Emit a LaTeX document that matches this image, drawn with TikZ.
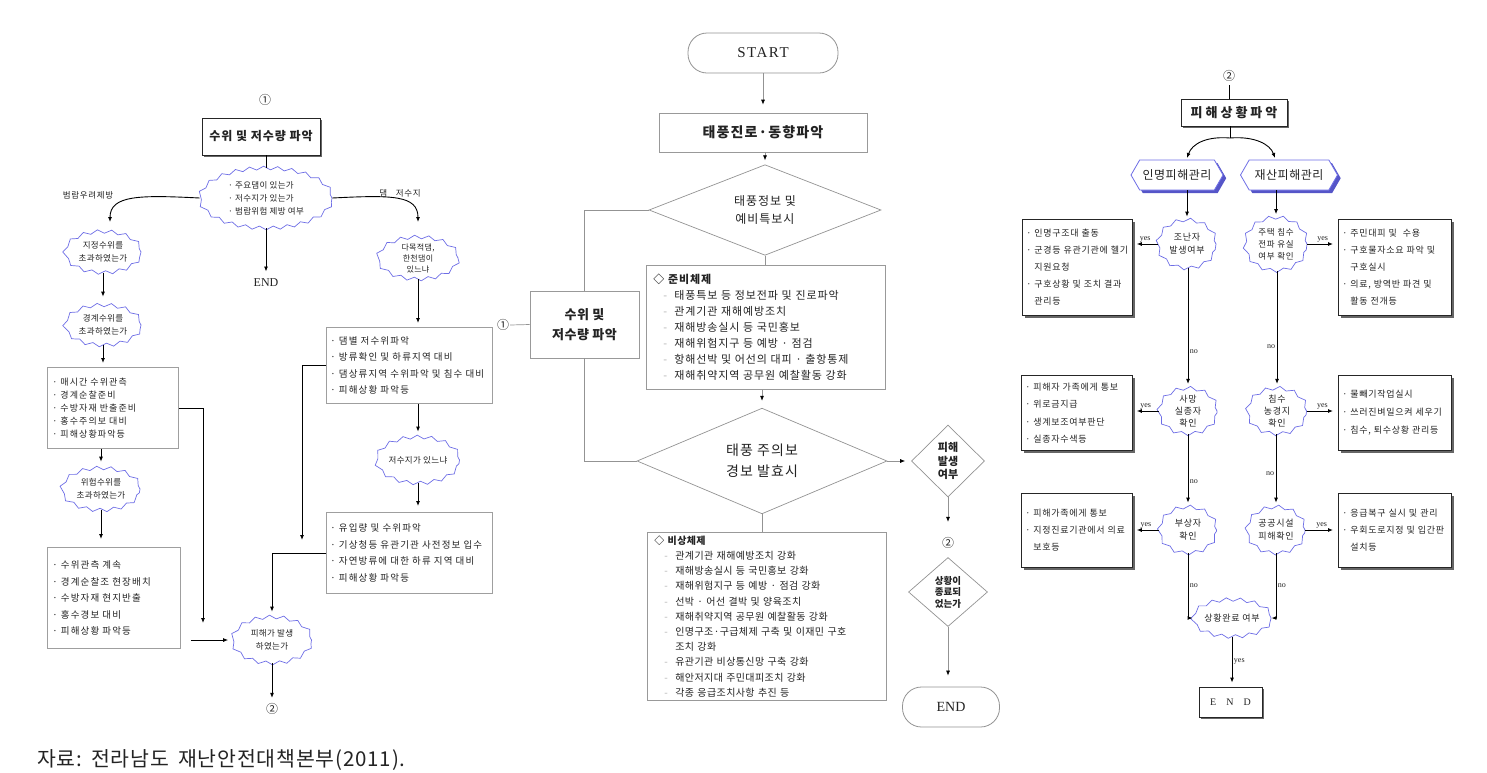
\documentclass[tikz,border=0pt]{standalone}
\usepackage{fontspec}
\setmainfont{Noto Sans CJK KR}
\newfontfamily\kA[LetterSpace=8]{Noto Sans CJK KR}
\newfontfamily\kB[LetterSpace=12]{Noto Sans CJK KR}
\newfontfamily\kC[LetterSpace=4]{Noto Sans CJK KR}
\newfontfamily\serifA{Liberation Serif}
\newfontfamily\serifB[LetterSpace=10]{Liberation Serif}
\usetikzlibrary{shapes.geometric,shapes.symbols,arrows.meta,decorations.pathmorphing,shadows,calc}
\definecolor{wblue}{RGB}{110,110,230}
\definecolor{hshade}{RGB}{85,85,200}
\definecolor{txt}{RGB}{35,35,35}
\newcommand\fsz[2]{\fontsize{#1}{#2}\selectfont}
\newcommand\dl{\hspace*{10pt}\makebox[11pt][l]{\textcolor{gray!60}{-}}}
\newcommand\rb{\makebox[8pt][l]{·}}
\newcommand\rc{\hspace*{8pt}}
\begin{document}
\begin{tikzpicture}[x=1pt,y=-1pt,
  every node/.style={text=txt},
  wav/.style={ellipse, draw=wblue, line width=0.7pt, fill=white, decorate,
    decoration={zigzag,segment length=14pt,amplitude=1.8pt}, inner sep=0pt, align=center, font=\kC\fsz{8.5}{12.5}},
  lbox/.style={draw=gray!75, line width=0.9pt, fill=white, align=left, inner xsep=5pt, anchor=north west},
  sbox/.style={draw=black!85, line width=0.8pt, fill=white,
    drop shadow={shadow xshift=2.2pt, shadow yshift=-2.2pt, fill=black!60, opacity=1}},
  rbox/.style={sbox, align=left, inner xsep=4pt, anchor=north west, font=\kA\fsz{9}{17}},
  cbox/.style={draw=gray!80, line width=0.7pt, fill=white},
  dia/.style={diamond, draw=gray!85, line width=0.7pt, fill=white, inner sep=0pt, align=center},
  term/.style={rectangle, rounded corners=19pt, draw=gray!85, line width=0.8pt, fill=white},
  hexs/.style={signal, signal to=west and east, signal pointer angle=120, draw=wblue, line width=0.8pt, fill=white,
    drop shadow={shadow xshift=3.2pt, shadow yshift=-3.2pt, fill=hshade, opacity=1}, inner sep=0pt, font=\kC\fsz{12}{12}},
  ln/.style={line width=0.9pt, black},
  arr/.style={ln, -{Latex[length=5pt,width=4pt]}},
  cln/.style={line width=0.7pt, gray!85},
  carr/.style={cln, -{Latex[length=5pt,width=4pt,color=black]}},
  lbl/.style={font=\kA\fsz{8.5}{9}},
  yn/.style={font=\serifA\fsz{8}{8}, inner sep=1.5pt}
]
\useasboundingbox (0,0) rectangle (1487,772);

% ================= LEFT PANEL =================
\node[font=\fsz{12}{12}] (c1) at (265,100) {①};
\node[sbox, minimum width=118pt, minimum height=37pt, font=\kA\bfseries\fsz{12}{12}] (L0) at (261,136.5) {수위 및 저수량 파악};
\node[wav, minimum width=132pt, minimum height=60pt, font=\kC\fsz{8.5}{13}, align=left] (W0) at (266,198)
  {· 주요댐이 있는가\\· 저수지가 있는가\\· 범람위험 제방 여부};
\draw[ln] (W0.north |- L0.south) -- (W0.north);
\coordinate (aL) at (110,222);
\coordinate (aR) at (418,222);
\draw[arr] (W0.west) .. controls (140,195) and (110,195) .. (aL);
\draw[arr] (W0.east) .. controls (392,195) and (418,195) .. (aR);
\node[lbl] at (88,195) {범람우려제방};
\node[lbl] at (400,193) {댐\quad 저수지};
\node[font=\serifA\fsz{12}{12}] (E1) at (266,283) {END};
\draw[arr] (W0.south) -- ([yshift=4pt]E1.north);

\node[wav, minimum width=76pt, minimum height=41pt] (W1) at (103,252) {지정수위를\\초과하였는가};
\node[wav, minimum width=76pt, minimum height=40pt] (W2) at (103,325) {경계수위를\\초과하였는가};
\draw[arr, shorten >=8pt] (W1.south) -- (W2.north);
\node[lbox, minimum width=131pt, minimum height=81pt, text width=121pt, font=\kB\fsz{9}{13}] (B1) at (47,367)
  {· 매시간 수위관측\\· 경계순찰준비\\· 수방자재 반출준비\\· 홍수주의보 대비\\· 피해상황파악등};
\draw[arr, shorten >=4pt] (W2.south) -- (W2.south |- B1.north);
\node[wav, minimum width=78pt, minimum height=42pt] (W3) at (101,489) {위험수위를\\초과하였는가};
\draw[arr, shorten >=6pt] (W3.north |- B1.south) -- (W3.north);
\node[lbox, minimum width=133pt, minimum height=101pt, text width=123pt, font=\kB\fsz{9.5}{16.5}] (B2) at (47,547)
  {· 수위관측 계속\\· 경계순찰조 현장배치\\· 수방자재 현지반출\\· 홍수경보 대비\\· 피해상황 파악등};
\draw[arr, shorten >=8pt] (W3.south) -- (W3.south |- B2.north);
\node[wav, minimum width=79pt, minimum height=46pt] (W5) at (272,640) {피해가 발생\\하였는가};
\coordinate (m1) at (203,623);
\draw[arr] (B1.east) -- (B1.east -| m1) -- (m1);
\draw[arr] ([xshift=10pt]B2.east |- W5.west) -- ([xshift=-4pt]W5.west);
\node[font=\fsz{12}{12}] (c2) at (272,709) {②};
\draw[arr, shorten >=2pt] (W5.south) -- (c2.north);

\node[wav, minimum width=80pt, minimum height=42pt, font=\kC\fsz{8}{11}] (W4) at (418,258) {다목적댐,\\한천댐이\\있느냐};
\node[lbox, minimum width=166pt, minimum height=76pt, text width=158pt, inner xsep=4pt, font=\kB\fsz{9.5}{16.5}] (B3) at (326,327)
  {· 댐별 저수위파악\\· 방류확인 및 하류지역 대비\\· 댐상류지역 수위파악 및 침수 대비\\· 피해상황 파악등};
\draw[arr, shorten >=4pt] (W4.south) -- (W4.south |- B3.north);
\node[wav, minimum width=80pt, minimum height=46pt] (W6) at (418,460) {저수지가 있느냐};
\draw[arr, shorten >=5pt] (W6.north |- B3.south) -- (W6.north);
\node[lbox, minimum width=166pt, minimum height=81pt, text width=158pt, inner xsep=4pt, font=\kB\fsz{9.5}{16.5}] (B4) at (326,512)
  {· 유입량 및 수위파악\\· 기상청등 유관기관 사전정보 입수\\· 자연방류에 대한 하류 지역 대비\\· 피해상황 파악등};
\draw[arr, shorten >=6pt] (W6.south) -- (W6.south |- B4.north);
\coordinate (m2) at (302,540);
\draw[arr] (B3.west) -- (B3.west -| m2) -- (m2);
\draw[arr, shorten >=5pt] (B4.west) -- (B4.west -| W5.north) -- (W5.north);

% ================= CENTER PANEL =================
\node[term, minimum width=150pt, minimum height=40pt, font=\serifB\fsz{15}{15}] (S) at (763,53) {START};
\node[cbox, minimum width=208pt, minimum height=39pt, font=\kA\bfseries\fsz{14}{14}] (T1) at (763,132.5) {태풍진로·동향파악};
\draw[carr, shorten >=8pt] (S.south) -- (T1.north);
\node[dia, minimum width=232pt, minimum height=75pt, font=\kA\fsz{12}{18}] (D1) at (765,210) {태풍정보 및\\예비특보시};
\draw[carr, shorten >=4pt] (D1.north |- T1.south) -- (D1.north);
\node[cbox, minimum width=109pt, minimum height=67pt, align=center, font=\kC\bfseries\fsz{13}{20}] (Q) at (584.5,324.5) {수위 및\\저수량 파악};
\draw[cln] (D1.west) -- (D1.west -| Q.north) -- (Q.north);
\node[font=\fsz{12}{12}, inner sep=1pt] (c1b) at (503,325) {①};
\draw[cln] (c1b.east) -- (Q.west);
\node[cbox, anchor=north west, minimum width=239pt, minimum height=124pt, text width=225pt, inner xsep=7pt, align=left, font=\kA\fsz{11}{16}] (P) at (646,265)
  {\textbf{◇ 준비체제}\\
   \dl 태풍특보 등 정보전파 및 진로파악\\
   \dl 관계기관 재해예방조치\\
   \dl 재해방송실시 등 국민홍보\\
   \dl 재해위험지구 등 예방 · 점검\\
   \dl 항해선박 및 어선의 대피 · 출항통제\\
   \dl 재해취약지역 공무원 예찰활동 강화};
\draw[cln] (D1.south) -- (D1.south |- P.north);
\node[dia, minimum width=250pt, minimum height=77pt, font=\kA\fsz{14}{21}] (D2) at (762,461) {태풍 주의보\\경보 발효시};
\draw[carr, shorten >=7pt] (D2.north |- P.south) -- (D2.north);
\draw[cln] (Q.south) -- (Q.south |- D2.west) -- (D2.west);
\node[dia, minimum width=73pt, minimum height=72pt, font=\bfseries\fsz{11}{13.5}] (D3) at (948,461) {피해\\발생\\여부};
\draw[carr, shorten >=6pt] (D2.east) -- (D3.west);
\node[font=\fsz{12}{12}] (c2b) at (948,543) {②};
\draw[carr, shorten >=12pt] (D3.south) -- (c2b.north);
\node[dia, minimum width=79pt, minimum height=69pt, font=\bfseries\fsz{9.5}{11.5}] (D4) at (948,592) {상황이\\종료되\\었는가};
\node[term, minimum width=97pt, minimum height=40pt, font=\serifA\fsz{14}{14}] (E2) at (951,707) {END};
\draw[carr, shorten >=11pt] (D4.south) -- (D4.south |- E2.north);
\node[cbox, anchor=north west, minimum width=239pt, minimum height=168pt, text width=225pt, inner xsep=7pt, align=left, font=\kC\fsz{10}{15.2}] (U) at (647,532)
  {\textbf{◇ 비상체제}\\
   \dl 관계기관 재해예방조치 강화\\
   \dl 재해방송실시 등 국민홍보 강화\\
   \dl 재해위험지구 등 예방 · 점검 강화\\
   \dl 선박 · 어선 결박 및 양육조치\\
   \dl 재해취약지역 공무원 예찰활동 강화\\
   \dl 인명구조·구급체제 구축 및 이재민 구호\\
   \hspace*{21pt}조치 강화\\
   \dl 유관기관 비상통신망 구축 강화\\
   \dl 해안저지대 주민대피조치 강화\\
   \dl 각종 응급조치사항 추진 등};
\draw[cln] (D2.south) -- (D2.south |- U.north);

% ================= RIGHT PANEL =================
\node[font=\fsz{12}{12}] (c3) at (1229,76) {②};
\node[sbox, minimum width=106pt, minimum height=27pt, font=\bfseries\fsz{13}{13}] (R0) at (1234,112.5) {피 해 상 황 파 악};
\draw[ln] (c3.south) -- (c3.south |- R0.north);
\coordinate (sp) at (1230,138);
\coordinate (h1t) at (1187,158);
\coordinate (h2t) at (1275,158);
\draw[ln] (sp |- R0.south) -- (sp);
\draw[arr] (sp) .. controls (1206,136) and (1192,144) .. (h1t);
\draw[arr] (sp) .. controls (1254,136) and (1270,144) .. (h2t);
\node[hexs, minimum width=92pt, minimum height=30pt] (H1) at (1177,175) {인명피해관리};
\node[hexs, minimum width=97pt, minimum height=30pt] (H2) at (1289,175) {재산피해관리};

\node[wav, minimum width=58pt, minimum height=48pt, font=\kA\fsz{9}{13}] (K1) at (1187,244) {조난자\\발생여부};
\node[wav, minimum width=62pt, minimum height=53pt, font=\kA\fsz{8.5}{12}] (K2) at (1276,244) {주택 침수\\전파 유실\\여부 확인};
\draw[arr, shorten >=3pt] (K1.north |- H1.south) -- (K1.north);
\draw[arr, shorten >=3pt] (K2.north |- H2.south) -- (K2.north);
\node[rbox, minimum width=110pt, minimum height=96pt, text width=102pt] (Y1) at (1022,219)
  {\rb 인명구조대 출동\\\rb 군경등 유관기관에 헬기\\\rc 지원요청\\\rb 구호상황 및 조치 결과\\\rc 관리등};
\node[rbox, minimum width=113pt, minimum height=96pt, text width=105pt] (Y2) at (1338,219)
  {\rb 주민대피 및 \ 수용\\\rb 구호물자소요 파악 및\\\rc 구호실시\\\rb 의료, 방역반 파견 및\\\rc 활동 전개등};
\draw[arr, shorten >=4pt] (K1.west) -- (K1.west -| Y1.east) node[midway, above, yn] {yes};
\draw[arr, shorten >=5pt] (K2.east) -- (K2.east -| Y2.west) node[midway, above, yn] {yes};

\node[wav, minimum width=58pt, minimum height=45pt, font=\kA\fsz{9}{12}] (K3) at (1188,411) {사망\\실종자\\확인};
\node[wav, minimum width=59pt, minimum height=45pt, font=\kA\fsz{9}{12}] (K4) at (1277,411) {침수\\농경지\\확인};
\draw[arr, shorten >=4pt] (K3.north |- K1.south) -- (K3.north) node[pos=0.7, right, yn] {no};
\draw[arr, shorten >=4pt] (K4.north |- K2.south) -- (K4.north) node[pos=0.65, left, yn] {no};
\node[rbox, minimum width=111pt, minimum height=75pt, text width=103pt, font=\kA\fsz{9}{17.5}] (Y3) at (1021,375)
  {\rb 피해자 가족에게 통보\\\rb 위로금지급\\\rb 생계보조여부판단\\\rb 실종자수색등};
\node[rbox, minimum width=113pt, minimum height=75pt, text width=105pt, font=\kA\fsz{9}{18}] (Y4) at (1338,375)
  {\rb 물빼기작업실시\\\rb 쓰러진벼일으켜 세우기\\\rb 침수, 퇴수상황 관리등};
\draw[arr, shorten >=4pt] (K3.west) -- (K3.west -| Y3.east) node[midway, above, yn] {yes};
\draw[arr, shorten >=5pt] (K4.east) -- (K4.east -| Y4.west) node[midway, above, yn] {yes};

\node[wav, minimum width=57pt, minimum height=46pt, font=\kA\fsz{9}{13}] (K5) at (1188,530) {부상자\\확인};
\node[wav, minimum width=58pt, minimum height=46pt, font=\kA\fsz{9}{13}] (K6) at (1276,530) {공공시설\\피해확인};
\draw[arr, shorten >=4pt] (K5.north |- K3.south) -- (K5.north) node[pos=0.65, right, yn] {no};
\draw[arr, shorten >=4pt] (K6.north |- K4.south) -- (K6.north) node[pos=0.55, left, yn] {no};
\node[rbox, minimum width=111pt, minimum height=74pt, text width=103pt] (Y5) at (1021,493)
  {\rb 피해가족에게 통보\\\rb 지정진료기관에서 의료\\\rc 보호등};
\node[rbox, minimum width=113pt, minimum height=74pt, text width=105pt] (Y6) at (1338,493)
  {\rb 응급복구 실시 및 관리\\\rb 우회도로지정 및 입간판\\\rc 설치등};
\draw[arr, shorten >=4pt] (K5.west) -- (K5.west -| Y5.east) node[midway, above, yn] {yes};
\draw[arr, shorten >=5pt] (K6.east) -- (K6.east -| Y6.west) node[midway, above, yn] {yes};

\node[wav, minimum width=69pt, minimum height=37pt, font=\kA\fsz{9}{12}] (K7) at (1232,618) {상황완료 여부};
\draw[arr] (K5.south) -- node[right, yn] {no} (K5.south |- K7.west) -- (K7.west);
\draw[arr] (K6.south) -- node[right, yn] {no} (K6.south |- K7.east) -- (K7.east);
\node[sbox, minimum width=63pt, minimum height=30pt, font=\serifA\fsz{10}{10}] (EN) at (1230.5,702) {E\quad N\quad D};
\draw[arr, shorten >=4pt] (K7.south) -- (K7.south |- EN.north) node[midway, right, yn] {yes};

% caption
\node[anchor=west, font=\kC\fsz{20.5}{20.5}, inner sep=0pt] (cap) at (37,760) {자료:\hspace{9pt}전라남도\hspace{9pt}재난안전대책본부(2011).};
\end{tikzpicture}
\end{document}
